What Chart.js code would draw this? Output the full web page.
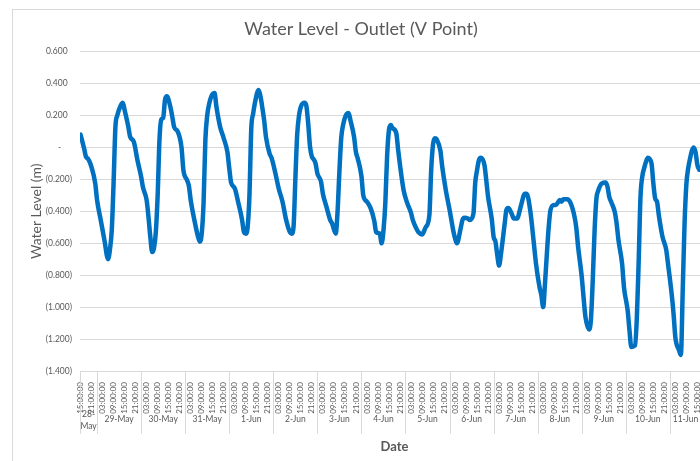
<!DOCTYPE html>
<html><head><meta charset="utf-8">
<script src="https://cdn.jsdelivr.net/npm/chart.js@4.4.1/dist/chart.umd.min.js"></script>
<style>
html,body{margin:0;padding:0;background:#fff;overflow:hidden;width:700px;height:461px;}
#frame{position:absolute;left:12px;top:9px;width:720px;height:470px;border:1px solid #d9d9d9;box-sizing:border-box;}
#c{position:absolute;left:0;top:0;}
</style></head><body>
<div id="frame"></div>
<canvas id="c" width="710" height="461"></canvas>
<script>
// Start of record: 28-May 15:00; hours are offsets from that moment
const startHour = 15;
const dates = ['28-May','29-May','30-May','31-May','1-Jun','2-Jun','3-Jun','4-Jun','5-Jun','6-Jun','7-Jun','8-Jun','9-Jun','10-Jun','11-Jun'];
const timeLabels = ['15:00:00','21:00:00','03:00:00','09:00:00'];
const yTicks = [0.6,0.4,0.2,0,-0.2,-0.4,-0.6,-0.8,-1.0,-1.2,-1.4];

const hours = [0,2,3,4,6,8,9,11,13,15,16,17,18,19,20,22,23,24,26,27,29,31,33,34,36,37,38,39,40,41,42,43,44,45,46,47,49,50,51,53,55,56,58,59,60,62,64,65,66,67,68,69,70,72,73,74,76,78,80,81,82,84,86,88,89,90,91,92,93,94,95,97,98,99,100,101,103,104,106,108,110,112,114,115,116,117,118,119,120,122,123,124,125,126,127,128,129,131,132,134,136,137,139,140,141,142,143,145,146,147,149,150,151,153,154,156,158,160,161,163,164,165,166,167,168,169,170,172,173,174,176,178,180,181,183,184,186,188,190,191,192,193,194,196,197,199,201,203,204,205,207,208,209,211,212,214,215,216,217,218,220,221,222,224,225,226,227,228,229,231,232,233,235,236,238,239,240,242,243,245,247,248,250,251,252,253,254,255,256,258,259,261,262,263,265,267,269,270,271,273,274,275,277,278,279,280,281,282,284,286,287,288,289,291,292,293,295,296,298,299,300,302,303,304,305,306,307,308,309,311,312,313,314,315,317,319,320,322,323,324,326,327,328,329,330,331,332,333,334,335,336,337];
const levels = [0.08,-0.01,-0.06,-0.07,-0.125,-0.225,-0.33,-0.455,-0.58,-0.70,-0.64,-0.52,-0.22,0.13,0.20,0.265,0.28,0.234,0.13,0.067,0.036,-0.08,-0.184,-0.25,-0.33,-0.435,-0.56,-0.655,-0.63,-0.53,-0.30,0.05,0.175,0.185,0.297,0.32,0.25,0.19,0.127,0.098,0.0,-0.14,-0.205,-0.24,-0.33,-0.455,-0.56,-0.59,-0.54,-0.35,0.05,0.20,0.27,0.335,0.34,0.255,0.13,0.057,-0.03,-0.131,-0.22,-0.256,-0.35,-0.455,-0.53,-0.54,-0.50,-0.30,0.12,0.21,0.28,0.36,0.32,0.25,0.17,0.065,-0.04,-0.064,-0.155,-0.26,-0.34,-0.455,-0.53,-0.54,-0.50,-0.20,0.08,0.20,0.255,0.28,0.26,0.15,0.004,-0.058,-0.075,-0.10,-0.163,-0.215,-0.29,-0.374,-0.455,-0.476,-0.54,-0.40,-0.15,0.06,0.14,0.21,0.215,0.17,0.065,-0.03,-0.07,-0.18,-0.30,-0.34,-0.38,-0.46,-0.53,-0.54,-0.60,-0.52,-0.35,-0.05,0.11,0.14,0.12,0.088,-0.016,-0.11,-0.27,-0.35,-0.41,-0.455,-0.51,-0.53,-0.545,-0.50,-0.425,-0.14,0.02,0.057,0.05,-0.02,-0.12,-0.27,-0.39,-0.52,-0.57,-0.60,-0.51,-0.455,-0.44,-0.445,-0.455,-0.415,-0.22,-0.14,-0.079,-0.064,-0.11,-0.205,-0.31,-0.45,-0.56,-0.59,-0.675,-0.74,-0.667,-0.48,-0.39,-0.38,-0.42,-0.445,-0.445,-0.405,-0.36,-0.29,-0.29,-0.40,-0.61,-0.72,-0.875,-0.925,-1.0,-0.85,-0.667,-0.50,-0.39,-0.36,-0.36,-0.33,-0.34,-0.325,-0.325,-0.35,-0.43,-0.50,-0.62,-0.81,-0.94,-1.06,-1.14,-1.08,-0.83,-0.52,-0.32,-0.27,-0.225,-0.22,-0.245,-0.31,-0.34,-0.405,-0.476,-0.58,-0.73,-0.875,-1.02,-1.145,-1.25,-1.24,-1.07,-0.72,-0.31,-0.18,-0.13,-0.09,-0.064,-0.10,-0.225,-0.32,-0.34,-0.425,-0.56,-0.64,-0.73,-0.92,-1.04,-1.19,-1.27,-1.30,-0.90,-0.48,-0.23,-0.13,-0.07,-0.02,0.0,-0.03,-0.11,-0.14];

const FONT = 'Lato';
const TXT = '#595959';
const GRID = '#d9d9d9';

function fmtAcct(v){
  const r = Math.round(v*1000)/1000;
  if (r === 0) return '-     ';
  const s = Math.abs(r).toFixed(3);
  return r < 0 ? '(' + s + ')' : s + '  ';
}

const dateRow = {
  id: 'dateRow',
  afterDraw(chart){
    const xs = chart.scales.x, ca = chart.chartArea, ctx = chart.ctx;
    const top = ca.bottom, bottom = ca.bottom + 63;
    const firstMidnight = 24 - startHour;
    const lastHour = hours[hours.length-1] + 1;
    const edges = [ca.left];
    for (let i = 1; i < dates.length; i++) edges.push(xs.getPixelForValue(firstMidnight + (i-1)*24));
    edges.push(xs.getPixelForValue(lastHour));
    ctx.save();
    ctx.strokeStyle = GRID; ctx.lineWidth = 1;
    for (let i = 0; i < edges.length-1; i++){
      const x = Math.round(edges[i]) + 0.5;
      ctx.beginPath(); ctx.moveTo(x, top); ctx.lineTo(x, bottom); ctx.stroke();
    }
    ctx.font = '8.5px ' + FONT; ctx.fillStyle = TXT; ctx.textAlign = 'center'; ctx.textBaseline = 'middle';
    for (let i = 0; i < dates.length; i++){
      const cx = (edges[i] + edges[i+1]) / 2, w = edges[i+1] - edges[i];
      const label = dates[i];
      if (ctx.measureText(label).width > w - 2){
        const k = label.indexOf('-') + 1;
        ctx.fillText(label.slice(0, k), cx, top + 43);
        ctx.fillText(label.slice(k), cx, top + 55);
      } else {
        ctx.fillText(label, cx, top + 48);
      }
    }
    ctx.restore();
  }
};

new Chart(document.getElementById('c'), {
  type: 'line',
  data: {
    datasets: [{
      data: hours.map((h, i) => ({x: h, y: levels[i]})),
      borderColor: '#0070C0',
      borderWidth: 4.5,
      pointRadius: 0,
      cubicInterpolationMode: 'monotone',
      borderJoinStyle: 'round',
      borderCapStyle: 'round',
      fill: false
    }]
  },
  options: {
    responsive: false,
    animation: false,
    devicePixelRatio: 1,
    layout: {padding: {left: 12, right: 0, top: 0, bottom: 0}},
    plugins: {
      legend: {display: false},
      tooltip: {enabled: false},
      title: {
        display: true,
        text: 'Water Level - Outlet (V Point)',
        color: TXT,
        font: {family: FONT, size: 18, weight: 'normal'},
        padding: {top: 18, bottom: 12}
      }
    },
    scales: {
      x: {
        type: 'linear',
        min: -0.3,
        max: 342.2,
        afterBuildTicks(s){
          const t = [];
          for (let h = 0; h <= hours[hours.length-1]; h += 6) t.push({value: h});
          s.ticks = t;
        },
        afterFit(s){ s.height = 90; },
        ticks: {
          autoSkip: false,
          minRotation: 90,
          maxRotation: 90,
          padding: 3,
          color: TXT,
          font: {family: FONT, size: 8},
          callback: (v) => timeLabels[Math.round(v/6) % timeLabels.length]
        },
        grid: {display: false},
        border: {display: true, color: GRID, width: 1},
        title: {
          display: true,
          text: 'Date',
          color: TXT,
          font: {family: FONT, size: 13, weight: 'bold'},
          padding: {top: 0, bottom: 6}
        }
      },
      y: {
        min: -1.4,
        max: 0.6,
        afterBuildTicks(s){ s.ticks = yTicks.map(v => ({value: v})); },
        afterFit(s){ s.width = 68; },
        ticks: {
          padding: 8,
          color: TXT,
          font: {family: FONT, size: 8.5},
          callback: (v) => fmtAcct(v)
        },
        grid: {color: GRID, lineWidth: 1, drawTicks: false},
        border: {display: false},
        title: {
          display: true,
          text: 'Water Level (m)',
          color: TXT,
          font: {family: FONT, size: 14, weight: 'normal'},
          padding: {top: 16, bottom: 0}
        }
      }
    }
  },
  plugins: [dateRow]
});
</script>
</body></html>
